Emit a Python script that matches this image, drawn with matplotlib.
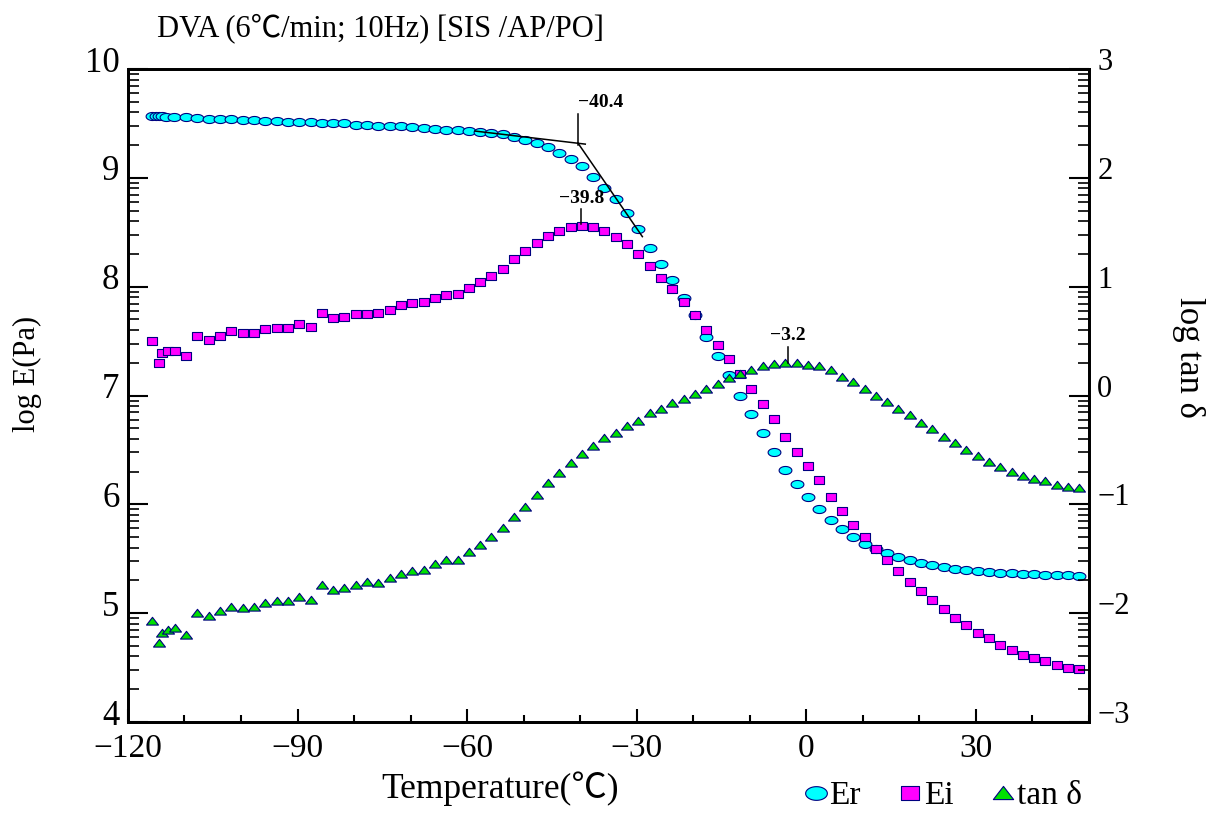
import numpy as np
import matplotlib
matplotlib.use("Agg")
import matplotlib.pyplot as plt
from matplotlib.path import Path
from matplotlib.ticker import FixedLocator, MultipleLocator
from matplotlib.transforms import ScaledTranslation

plt.rcParams['font.family'] = ['Liberation Serif', 'Noto Sans CJK JP', 'DejaVu Sans']

# temperatures (degC)
temp_er = [-115.7, -115.0, -114.5, -113.9, -113.2, -111.8, -109.7,
           -107.7, -105.7, -103.7, -101.7, -99.7, -97.7, -95.7, -93.7, -91.7, -89.7,
           -87.7, -85.7, -83.7, -81.7, -79.7, -77.7, -75.7, -73.7, -71.7, -69.7,
           -67.7, -65.7, -63.7, -61.7, -59.7, -57.7, -55.7, -53.7, -51.7, -49.7,
           -47.7, -45.7, -43.7, -41.7, -39.7, -37.7, -35.7, -33.7, -31.7, -29.7,
           -27.7, -25.7, -23.7, -21.7, -19.7, -17.7, -15.7, -13.7, -11.7, -9.7,
           -7.7, -5.7, -3.7, -1.7, 0.3, 2.3, 4.3, 6.3, 8.3, 10.3,
           12.3, 14.3, 16.3, 18.3, 20.3, 22.3, 24.3, 26.3, 28.3, 30.3,
           32.3, 34.3, 36.3, 38.3, 40.3, 42.3, 44.3, 46.3, 48.3]
temp = [-115.7, -114.5, -113.9, -113.0, -111.7, -109.7,
        -107.7, -105.7, -103.7, -101.7, -99.7, -97.7, -95.7, -93.7, -91.7, -89.7,
        -87.7, -85.7, -83.7, -81.7, -79.7, -77.7, -75.7, -73.7, -71.7, -69.7,
        -67.7, -65.7, -63.7, -61.7, -59.7, -57.7, -55.7, -53.7, -51.7, -49.7,
        -47.7, -45.7, -43.7, -41.7, -39.7, -37.7, -35.7, -33.7, -31.7, -29.7,
        -27.7, -25.7, -23.7, -21.7, -19.7, -17.7, -15.7, -13.7, -11.7, -9.7,
        -7.7, -5.7, -3.7, -1.7, 0.3, 2.3, 4.3, 6.3, 8.3, 10.3,
        12.3, 14.3, 16.3, 18.3, 20.3, 22.3, 24.3, 26.3, 28.3, 30.3,
        32.3, 34.3, 36.3, 38.3, 40.3, 42.3, 44.3, 46.3, 48.3]

log_er = [9.57, 9.57, 9.57, 9.565, 9.56, 9.56, 9.555,
          9.55, 9.54, 9.54, 9.54, 9.53, 9.53, 9.52, 9.52, 9.515, 9.51,
          9.51, 9.50, 9.50, 9.50, 9.49, 9.49, 9.48, 9.48, 9.475, 9.47,
          9.46, 9.45, 9.44, 9.44, 9.43, 9.42, 9.41, 9.40, 9.38, 9.35,
          9.32, 9.28, 9.23, 9.17, 9.11, 9.01, 8.91, 8.81, 8.68, 8.53,
          8.36, 8.21, 8.06, 7.90, 7.74, 7.54, 7.36, 7.19, 7.00, 6.83,
          6.66, 6.48, 6.32, 6.19, 6.07, 5.96, 5.86, 5.77, 5.70, 5.64,
          5.59, 5.55, 5.52, 5.49, 5.46, 5.44, 5.42, 5.41, 5.40, 5.39,
          5.38, 5.37, 5.37, 5.36, 5.36, 5.35, 5.35, 5.35, 5.34]

log_ei = [7.50, 7.30, 7.39, 7.41, 7.41, 7.36,
          7.55, 7.51, 7.55, 7.59, 7.57, 7.57, 7.61, 7.62, 7.62, 7.66,
          7.63, 7.76, 7.71, 7.72, 7.75, 7.75, 7.76, 7.79, 7.83, 7.85,
          7.86, 7.90, 7.92, 7.93, 7.99, 8.04, 8.10, 8.16, 8.25, 8.33,
          8.40, 8.47, 8.51, 8.55, 8.56, 8.55, 8.51, 8.46, 8.39, 8.30,
          8.19, 8.08, 7.98, 7.86, 7.74, 7.60, 7.46, 7.34, 7.20, 7.06,
          6.92, 6.78, 6.62, 6.48, 6.35, 6.22, 6.07, 5.94, 5.81, 5.70,
          5.59, 5.49, 5.39, 5.29, 5.20, 5.12, 5.04, 4.96, 4.89, 4.82,
          4.77, 4.71, 4.66, 4.62, 4.59, 4.56, 4.52, 4.50, 4.49]

log_tand = [-2.07, -2.27, -2.18, -2.15, -2.14, -2.20,
            -2.00, -2.03, -1.98, -1.94, -1.95, -1.94, -1.91, -1.89, -1.89, -1.85,
            -1.88, -1.74, -1.79, -1.77, -1.74, -1.71, -1.72, -1.68, -1.64, -1.61,
            -1.60, -1.55, -1.51, -1.51, -1.44, -1.37, -1.30, -1.22, -1.12, -1.02,
            -0.91, -0.80, -0.71, -0.62, -0.54, -0.46, -0.39, -0.34, -0.28, -0.23,
            -0.16, -0.12, -0.07, -0.03, 0.01, 0.06, 0.11, 0.16, 0.20, 0.23,
            0.27, 0.29, 0.30, 0.30, 0.28, 0.27, 0.23, 0.17, 0.12, 0.06,
            0.00, -0.06, -0.12, -0.18, -0.25, -0.31, -0.38, -0.44, -0.50, -0.56,
            -0.61, -0.66, -0.70, -0.74, -0.77, -0.79, -0.82, -0.84, -0.85]

xticks = [-120, -90, -60, -30, 0, 30]
left_ticks = [4, 5, 6, 7, 8, 9, 10]
right_ticks = [-3, -2, -1, 0, 1, 2, 3]

# marker shapes (the originals are squashed)
t = np.linspace(0, 2 * np.pi, 60)
ellipse = Path(np.column_stack([np.cos(t), 0.63 * np.sin(t)]), closed=True)
rect = Path([(-1, -0.8), (1, -0.8), (1, 0.8), (-1, 0.8), (-1, -0.8)], closed=True)
tri = Path([(-1, -0.6), (1, -0.6), (0, 0.7), (-1, -0.6)], closed=True)
edge = '#000080'

fig = plt.figure(figsize=(12.07, 8.14), dpi=100)
ax = fig.add_axes([0.1060, 0.1130, 0.7962, 0.8022])
ax2 = ax.twinx()

l1, = ax.plot(temp_er, log_er, ls='none', marker=ellipse, ms=9.2,
              mfc='#00ffff', mec=edge, mew=0.8)
l2, = ax.plot(temp, log_ei, ls='none', marker=rect, ms=7.3,
              mfc='#ff00ff', mec=edge, mew=0.8)
l3, = ax2.plot(temp, log_tand, ls='none', marker=tri, ms=8.6,
               mfc='#00e000', mec=edge, mew=0.8)

# onset construction for Er and peak markers
ax.plot([-58.6, -39.1], [9.43, 9.31], color='black', lw=1.1)
ax.plot([-40.4, -29.0], [9.32, 8.46], color='black', lw=1.1)
ax.plot([-40.4, -40.4], [9.30, 9.59], color='black', lw=1.1)
ax.text(-40.4, 9.61, '\u221240.4', ha='left', va='bottom', fontsize=14, fontweight='bold')
ax.plot([-39.8, -39.8], [8.58, 8.71], color='black', lw=1.1)
ax.text(-39.8, 8.73, '\u221239.8', ha='center', va='bottom', fontsize=14, fontweight='bold')
ax2.plot([-3.2, -3.2], [0.30, 0.45], color='black', lw=1.1)
ax2.text(-3.2, 0.47, '\u22123.2', ha='center', va='bottom', fontsize=14, fontweight='bold')

ax.set_xlim(-120, 50)
ax.set_ylim(4, 10)
ax2.set_ylim(-3, 3)

ax.set_xticks(xticks)
ax.xaxis.set_minor_locator(MultipleLocator(10))
ax.set_yticks(left_ticks)
ax2.set_yticks(right_ticks)
ax.yaxis.set_minor_locator(FixedLocator(
    [n + np.log10(k) for n in range(4, 10) for k in range(2, 10)]))
ax2.yaxis.set_minor_locator(FixedLocator(
    [n + np.log10(k) for n in range(-3, 3) for k in range(2, 10)]))

ax.tick_params(axis='x', which='major', direction='in', length=9.5, width=1.5,
               labelsize=24, pad=8, top=False)
ax.tick_params(axis='x', which='minor', direction='in', length=5, width=1.5, top=False)
ax.tick_params(axis='y', which='major', direction='in', length=14.5, width=1.5,
               labelsize=25, pad=6, right=False)
ax.tick_params(axis='y', which='minor', direction='in', length=8, width=1.2, right=False)
ax2.tick_params(axis='y', which='major', direction='in', length=14.5, width=1.5,
                labelsize=22, pad=6)
ax2.tick_params(axis='y', which='minor', direction='in', length=8, width=1.2)

for a in (ax, ax2):
    for s in a.spines.values():
        s.set_linewidth(2)

# tick labels sit a little above their ticks in the original
shift = ScaledTranslation(0, 10 / 100, fig.dpi_scale_trans)
for lab in ax.get_yticklabels() + ax2.get_yticklabels():
    lab.set_transform(lab.get_transform() + shift)

fig.text(157 / 1207, 1 - 28 / 814, 'DVA (6\u2103/min; 10Hz) [SIS /AP/PO]',
         ha='left', va='center', fontsize=22)
fig.text(500 / 1207, 1 - 789 / 814, 'Temperature(\u2103)', ha='center', va='center',
         fontsize=25.5)
fig.text(27 / 1207, 1 - 374 / 814, 'log E(Pa)', ha='center', va='center',
         rotation=90, fontsize=22)
fig.text(1188 / 1207, 1 - 357 / 814, 'log tan \u03b4', ha='center', va='center',
         rotation=-90, fontsize=25)

fig.legend(handles=[l1, l2, l3], labels=['Er', 'Ei', 'tan \u03b4'], loc='center',
           bbox_to_anchor=(942 / 1207, 1 - 796 / 814), ncol=3, frameon=False,
           handlelength=0.8, handletextpad=0.0, columnspacing=1.1,
           markerscale=1.7, fontsize=24, borderpad=0)

fig.savefig('out.png', dpi=100)
